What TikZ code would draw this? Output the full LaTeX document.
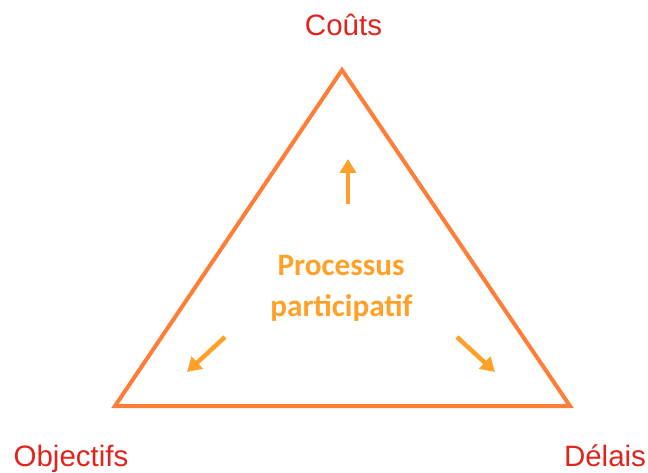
\documentclass[tikz,border=0pt]{standalone}
\usepackage{fontspec}
\setmainfont{Liberation Sans}
\newfontfamily\calib{Carlito}
\usetikzlibrary{arrows.meta}
\definecolor{triorange}{RGB}{255,125,55}
\definecolor{arrorange}{RGB}{255,160,40}
\definecolor{labred}{RGB}{225,35,30}
\tikzset{
  corner/.style={text=labred, font=\fontsize{29.5}{35}\selectfont, anchor=base, inner sep=0pt},
  centre/.style={text=arrorange, font=\calib\bfseries\fontsize{31.2}{37}\selectfont, anchor=base, inner sep=0pt},
  tri/.style={draw=triorange, line width=4pt, line join=miter},
  push/.style={draw=arrorange, line width=4.5pt, -{Triangle[width=16pt,length=14pt]}}
}
\begin{document}
\begin{tikzpicture}[x=1pt,y=-1pt]
\useasboundingbox (0,0) rectangle (648,473);
\coordinate (T) at (342,70);
\coordinate (L) at (115,406);
\coordinate (R) at (570,406);
\draw[tri] (T) -- (R) -- (L) -- cycle;
\node[corner] (couts) at (343.5,35.5) {Coûts};
\node[corner] (obj) at (71,466.5) {Objectifs};
\node[corner] (delais) at (605,466.5) {Délais};
\node[centre] (proc) at (341,275) {Processus};
\node[centre] (part) at (341.5,316) {participatif};
\coordinate (a1s) at (348,204);
\coordinate (a1e) at (348,159);
\coordinate (a2s) at (225,337);
\coordinate (a2e) at (187,372);
\coordinate (a3s) at (457,337);
\coordinate (a3e) at (495,372);
\draw[push] (a1s) -- (a1e);
\draw[push] (a2s) -- (a2e);
\draw[push] (a3s) -- (a3e);
\end{tikzpicture}
\end{document}
